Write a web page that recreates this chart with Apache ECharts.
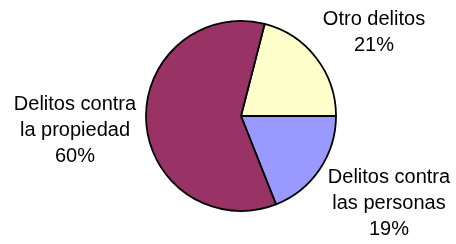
<!DOCTYPE html>
<html>
<head>
<meta charset="utf-8">
<script src="https://cdn.jsdelivr.net/npm/echarts@6/dist/echarts.min.js"></script>
<style>
  html, body { margin: 0; padding: 0; background: #fff; }
  #chart { width: 456px; height: 244px; }
</style>
</head>
<body>
<div id="chart"></div>
<script>
// datos
const categories = ['Otro delitos', 'Delitos contra\nlas personas', 'Delitos contra\nla propiedad']
const values = [21, 19, 60]
const colors = ['#FFFFCC', '#9999FF', '#993366']

// donde va cada etiqueta (centro del bloque de texto)
const labelAnchor = [[374, 32], [389, 203], [75, 130]]

const chart = echarts.init(document.getElementById('chart'), null, { renderer: 'canvas' })

chart.setOption({
  backgroundColor: '#fff',
  animation: false,
  series: [{
    type: 'pie',
    center: [241, 116],
    radius: 95,
    startAngle: 75.6,
    clockwise: true,
    data: categories.map((name, i) => ({
      name: name,
      value: values[i],
      itemStyle: { color: colors[i] }
    })),
    itemStyle: {
      borderColor: '#000',
      borderWidth: 1.8
    },
    label: {
      show: true,
      position: 'outside',
      overflow: 'none',
      fontFamily: 'Liberation Sans, Arial, sans-serif',
      fontSize: 20,
      lineHeight: 26,
      color: '#000',
      align: 'center',
      formatter: p => p.name + '\n' + Math.round(p.percent) + '%'
    },
    labelLine: { show: false },
    labelLayout: params => ({
      x: labelAnchor[params.dataIndex][0],
      y: labelAnchor[params.dataIndex][1],
      align: 'center',
      verticalAlign: 'middle'
    }),
    emphasis: { disabled: true }
  }]
})
</script>
</body>
</html>
